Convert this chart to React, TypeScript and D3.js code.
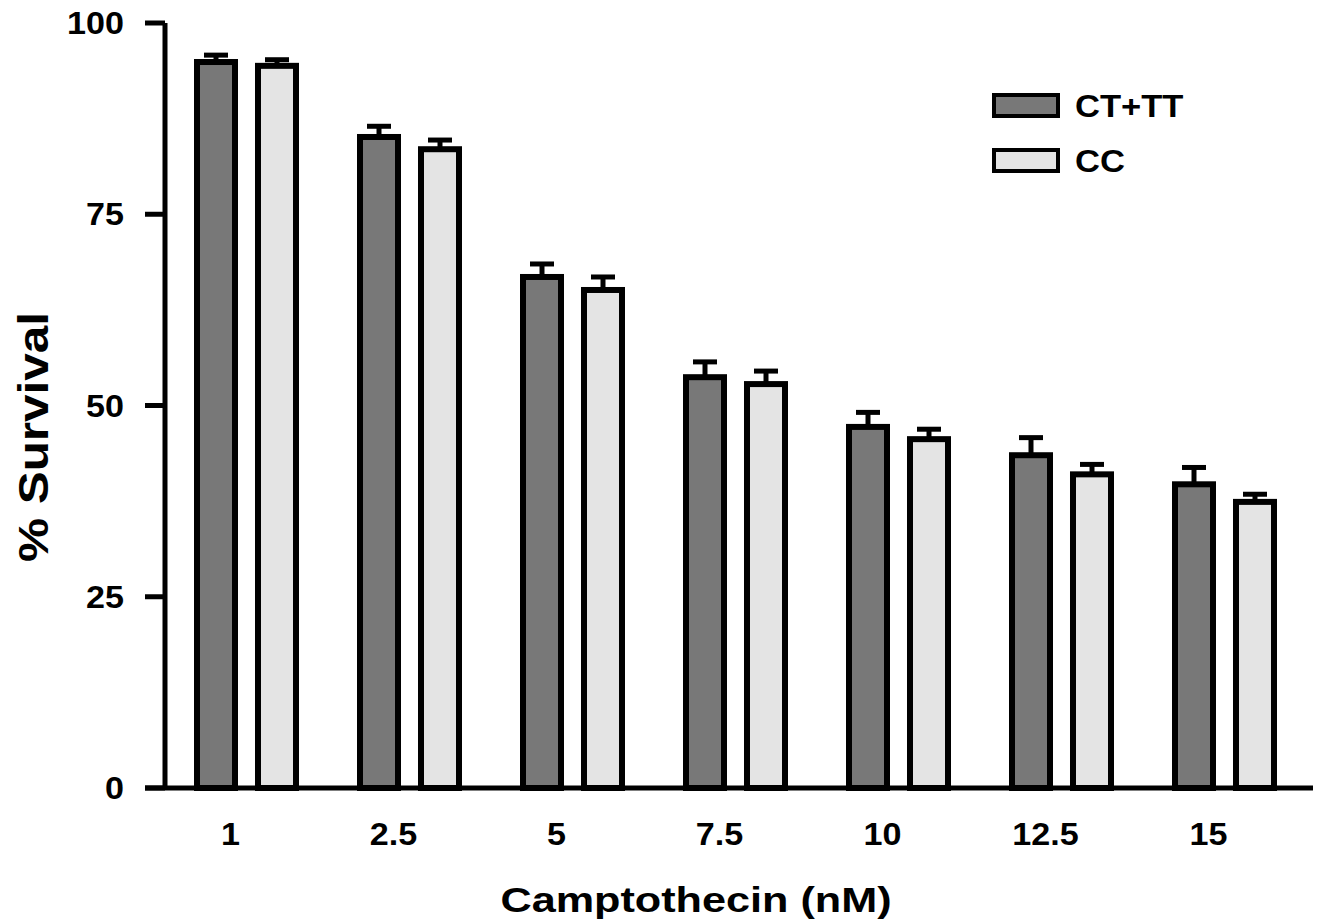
import * as d3 from 'd3';

// concentrations (nM) on the x axis
const doses = ['1', '2.5', '5', '7.5', '10', '12.5', '15'];
const series = ['CT+TT', 'CC'];

// % survival
const ctTtMean = [94.9, 85.1, 66.8, 53.7, 47.2, 43.5, 39.7];
const ctTtErr = [0.9, 1.4, 1.7, 2.0, 1.9, 2.3, 2.2];
const ccMean = [94.4, 83.5, 65.1, 52.8, 45.6, 41.0, 37.4];
const ccErr = [0.8, 1.2, 1.7, 1.7, 1.3, 1.3, 1.0];

const yTicks = [0, 25, 50, 75, 100];

const FILLS: Record<string, string> = { 'CT+TT': '#787878', CC: '#e4e4e4' };
const FONT = '"Liberation Sans", Arial, Helvetica, sans-serif';

const W = 1321;
const H = 923;

// the original lettering is a wide helvetica, so stretch text a bit along its length
function Label({ x, y, rot = 0, sx = 1.1, anchor = 'middle', size, children }: any) {
  return (
    <text
      transform={`translate(${x},${y}) rotate(${rot}) scale(${sx},1)`}
      textAnchor={anchor}
      fontSize={size}
      fontWeight="bold"
    >
      {children}
    </text>
  );
}

export default function App() {
  const x0 = d3.scaleBand().domain(doses).range([165, 1306]).padding(0);
  const bw = x0.bandwidth();
  const x1 = d3.scaleBand().domain(series).range([bw / 2 - 49.5, bw / 2 + 49.5]).paddingInner(0.377);
  const y = d3.scaleLinear().domain([0, 100]).range([788, 23]);

  const rows = doses.map((d, i) => ({
    dose: d,
    values: [
      { key: 'CT+TT', mean: ctTtMean[i], err: ctTtErr[i] },
      { key: 'CC', mean: ccMean[i], err: ccErr[i] },
    ],
  }));

  const capW = 24;

  return (
    <div style={{ position: 'fixed', left: 0, top: 0 }}>
      <svg width={W} height={H} style={{ display: 'block', background: '#fff' }} fontFamily={FONT}>
        {/* bars + error bars */}
        {rows.map((r) => (
          <g key={r.dose} transform={`translate(${x0(r.dose)},0)`}>
            {r.values.map((v) => {
              const bx = x1(v.key)!;
              const cx = bx + x1.bandwidth() / 2;
              const top = y(v.mean + v.err);
              return (
                <g key={v.key}>
                  <line x1={cx} x2={cx} y1={y(v.mean)} y2={top} stroke="#000" strokeWidth={5} />
                  <line x1={cx - capW / 2} x2={cx + capW / 2} y1={top} y2={top} stroke="#000" strokeWidth={5} />
                  <rect
                    x={bx}
                    y={y(v.mean)}
                    width={x1.bandwidth()}
                    height={y(0) - y(v.mean)}
                    fill={FILLS[v.key]}
                    stroke="#000"
                    strokeWidth={6}
                  />
                </g>
              );
            })}
          </g>
        ))}

        {/* y axis */}
        <line x1={165} x2={165} y1={y(100)} y2={y(0)} stroke="#000" strokeWidth={5} />
        {yTicks.map((t) => (
          <g key={t}>
            <line x1={145} x2={165} y1={y(t)} y2={y(t)} stroke="#000" strokeWidth={5} />
            <Label x={124} y={y(t) + 11} anchor="end" size={31} sx={1.1}>
              {t}
            </Label>
          </g>
        ))}

        {/* x axis */}
        <line x1={145} x2={1313} y1={y(0)} y2={y(0)} stroke="#000" strokeWidth={5} />
        {doses.map((d) => (
          <Label key={d} x={x0(d)! + bw / 2 - 16} y={845} size={31} sx={1.1}>
            {d}
          </Label>
        ))}

        {/* axis titles */}
        <Label x={696} y={912} size={36} sx={1.2}>
          Camptothecin (nM)
        </Label>
        <Label x={48} y={437} rot={-90} size={43} sx={1.15}>
          % Survival
        </Label>

        {/* legend */}
        {series.map((s, i) => (
          <g key={s} transform={`translate(994,${95 + i * 55})`}>
            <rect x={0} y={0} width={64} height={21} fill={FILLS[s]} stroke="#000" strokeWidth={4} />
            <Label x={81} y={22} anchor="start" size={32} sx={1.08}>
              {s}
            </Label>
          </g>
        ))}
      </svg>
    </div>
  );
}
